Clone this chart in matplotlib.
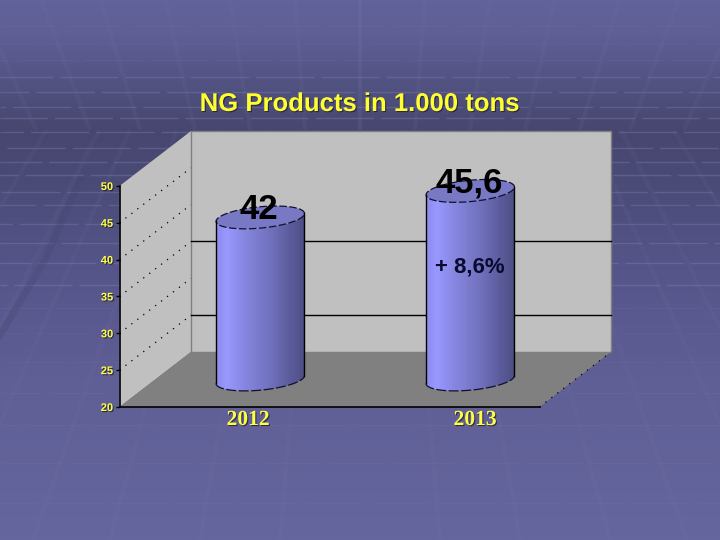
import numpy as np
import matplotlib
matplotlib.use("Agg")
import matplotlib.pyplot as plt
from matplotlib.patches import Polygon
from matplotlib.colors import LinearSegmentedColormap
import matplotlib.patheffects as pe

years = ["2012", "2013"]
values = [42.0, 45.6]
value_labels = ["42", "45,6"]
y_ticks = [20, 25, 30, 35, 40, 45, 50]
side_dotted = [25, 30, 35, 40, 45]
back_grid = [25, 35]
title = "NG Products in 1.000 tons"
note = "+ 8,6%"
bg_h = [26, 43, 60, 77, 92, 107, 118, 132, 148, 162, 175, 192, 205, 224, 243,
        263, 285, 308, 333, 362, 393, 425, 463, 503]

W, H = 720, 540
fig = plt.figure(figsize=(7.2, 5.4), dpi=100)

# ---------- slide background ----------
bg = fig.add_axes([0, 0, 1, 1], zorder=0)
bg.set_xlim(0, W); bg.set_ylim(H, 0); bg.axis("off")
cm_bg = LinearSegmentedColormap.from_list("bg", [
    (0.0, "#62629a"), (0.06, "#5f5f96"), (0.24, "#46466f"), (0.34, "#4b4b78"),
    (0.50, "#55558a"), (0.70, "#5f5f96"), (1.0, "#66669e")])
bg.imshow(np.linspace(0, 1, 270)[:, None], cmap=cm_bg, extent=(0, W, H, 0), aspect="auto", vmin=0, vmax=1)
bg.set_xlim(0, W); bg.set_ylim(H, 0)
for k, y in enumerate(bg_h):
    a = 0.32 if 60 < y < 300 else 0.10
    bg.plot([0, W], [y, y], color="#8a8ab8", lw=1.0, alpha=a, ls=(k * 17, (42, 5)))
for o in [324, 270, 220, 165, 110, 55, 0]:
    for s in (-1, 1):
        bg.plot([360 + s * o, 360 + s * o * 1.18], [130, 0], color="#7878a8", lw=3, alpha=0.11, solid_capstyle="butt")
for o in [560, 466, 411, 327, 250, 160, 80]:
    for s in (-1, 1):
        bg.plot([360 + s * o * 0.56, 360 + s * o], [130, 540], color="#7c7cac", lw=3, alpha=0.09, solid_capstyle="butt")
bg.plot([0, 45, 80], [335, 260, 180], color="#454570", lw=5, alpha=0.30)

# ---------- chart on the front plane ----------
x0, x1, ytop, ybot = 119.5, 539.5, 186, 407
ax = fig.add_axes([x0 / W, 1 - ybot / H, (x1 - x0) / W, (ybot - ytop) / H], zorder=1)
ax.patch.set_alpha(0)
XMIN, XMAX, YMIN, YMAX = -0.5, 1.5, 20, 50
DX = 71.5 / 210
DY = 55 / 221 * 30

ax.add_patch(Polygon([(XMIN, YMIN), (XMIN + DX, YMIN + DY), (XMIN + DX, YMAX + DY), (XMIN, YMAX)],
                     fc="#c0c0c0", ec="none", clip_on=False, zorder=1))
ax.add_patch(Polygon([(XMIN + DX, YMIN + DY), (XMAX + DX, YMIN + DY), (XMAX + DX, YMAX + DY), (XMIN + DX, YMAX + DY)],
                     fc="#c0c0c0", ec="#808080", lw=1, clip_on=False, zorder=1))
ax.add_patch(Polygon([(XMIN, YMIN), (XMAX, YMIN), (XMAX + DX, YMIN + DY), (XMIN + DX, YMIN + DY)],
                     fc="#808080", ec="none", clip_on=False, zorder=2))
for v in back_grid:
    ax.plot([XMIN + DX, XMAX + DX], [v + DY, v + DY], color="black", lw=1.0, clip_on=False, zorder=2)
for v in side_dotted:
    ax.plot([XMIN, XMIN + DX], [v, v + DY], color="black", lw=0.9, ls=(0, (1, 5)), clip_on=False, zorder=2)
ax.plot([XMAX, XMAX + DX], [YMIN, YMIN + DY], color="black", lw=0.9, ls=(0, (1, 5)), clip_on=False, zorder=3)

cyl = LinearSegmentedColormap.from_list("cyl", [
    (0.0, "#8c8cec"), (0.12, "#9898ff"), (0.35, "#8484dc"), (0.6, "#7272bf"),
    (0.85, "#5a5a9a"), (1.0, "#4e4e84")])
A = 44.2 / 210
B = 1.45
TILT = 0.54
LABEL_GAP = -0.25
t = np.linspace(0, 2 * np.pi, 121)
for i, v in enumerate(values):
    cx = i + DX / 2
    top, base = v + DY / 2, YMIN + DY / 2
    ex, ey = cx + A * np.cos(t), B * np.sin(t) + TILT * np.cos(t)
    low = t >= np.pi
    body = np.vstack([
        np.column_stack([ex[low], base + ey[low]]),
        np.column_stack([ex[low][::-1], top + ey[low][::-1]]),
    ])
    patch = Polygon(body, fc="none", ec="none", transform=ax.transData)
    ax.add_patch(patch)
    im = ax.imshow(np.linspace(0, 1, 200)[None, :], cmap=cyl, vmin=0, vmax=1, aspect="auto",
                   extent=(cx - A, cx + A, base - B - 1, top + B + 1), zorder=4)
    im.set_clip_path(patch)
    ax.fill(ex, top + ey, fc="#7878c4", ec="none", clip_on=False, zorder=5)
    ax.plot(ex, top + ey, color="#101030", lw=0.9, ls=(0, (6, 2)), clip_on=False, zorder=6)
    ax.plot(ex[low], base + ey[low], color="#101030", lw=0.9, ls=(0, (8, 2)), clip_on=False, zorder=6)
    ax.plot([cx - A, cx - A], [base - TILT, top - TILT], color="black", lw=1, clip_on=False, zorder=6)
    ax.plot([cx + A, cx + A], [base + TILT, top + TILT], color="black", lw=1, clip_on=False, zorder=6)
    ax.text(cx - 0.005, top - B * 0.6 + LABEL_GAP, value_labels[i], ha="center", va="bottom", color="black",
            family="Liberation Sans", weight="bold", fontsize=25, clip_on=False, zorder=8)
ax.text(1 + DX / 2, 20 + (407 - 267) / 221 * 30, note, ha="center", va="center",
        color="#0a0a30", family="Liberation Sans", weight="bold", fontsize=16, zorder=8)

ax.set_xlim(XMIN, XMAX)
ax.set_ylim(YMIN, YMAX)
for s in ("top", "right"):
    ax.spines[s].set_visible(False)
for s in ("left", "bottom"):
    ax.spines[s].set_color("black"); ax.spines[s].set_linewidth(1.2); ax.spines[s].set_zorder(7)
shadow = [pe.withSimplePatchShadow(offset=(0.8, -0.8), shadow_rgbFace="#202040", alpha=0.8)]
ax.set_xticks([])
ax.set_yticks(y_ticks)
ax.set_yticklabels([str(v) for v in y_ticks], color="#ffff40", family="Liberation Sans", weight="bold",
                   fontsize=8, path_effects=shadow)
ax.tick_params(axis="y", length=3, width=1, color="black", pad=1.5)

for name, px in zip(years, [248, 475]):
    fig.text(px / W, 1 - 420 / H, name, ha="center", va="center", color="#ffff40",
             family="Liberation Serif", weight="bold", fontsize=15.5, zorder=5, path_effects=shadow)
fig.text(360 / W, 1 - 104 / H, title, ha="center", va="center", color="#ffff30",
         family="Liberation Sans", weight="bold", fontsize=18.5, zorder=5, path_effects=shadow)

fig.savefig("out.png", dpi=100)
